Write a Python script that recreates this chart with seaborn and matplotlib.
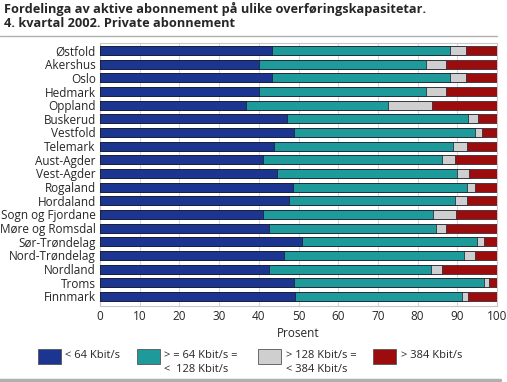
import matplotlib
matplotlib.use("Agg")
import matplotlib.pyplot as plt
import seaborn as sns
import pandas as pd
import numpy as np
from matplotlib.patches import Rectangle
from matplotlib.lines import Line2D

regions = ["Østfold", "Akershus", "Oslo", "Hedmark", "Oppland", "Buskerud",
           "Vestfold", "Telemark", "Aust-Agder", "Vest-Agder", "Rogaland",
           "Hordaland", "Sogn og Fjordane", "Møre og Romsdal", "Sør-Trøndelag",
           "Nord-Trøndelag", "Nordland", "Troms", "Finnmark"]

under_64 = [43.3, 40.1, 43.3, 40.1, 36.7, 47.1, 48.8, 43.8, 41.1, 44.6,
            48.7, 47.6, 41.1, 42.6, 50.8, 46.4, 42.6, 48.9, 49.1]
from_64_to_128 = [44.9, 42.0, 44.9, 42.0, 35.8, 45.6, 45.6, 45.0, 45.0, 45.3,
                  43.8, 41.8, 42.8, 42.0, 44.2, 45.2, 40.8, 47.8, 42.1]
from_128_to_384 = [4.0, 5.0, 4.0, 5.0, 11.1, 2.4, 1.7, 3.7, 3.4, 3.1,
                   1.9, 3.1, 5.7, 2.5, 1.6, 2.8, 2.7, 1.2, 1.5]
over_384 = [7.8, 12.9, 7.8, 12.9, 16.4, 4.9, 3.9, 7.5, 10.5, 7.0,
            5.6, 7.5, 10.4, 12.9, 3.4, 5.6, 13.9, 2.1, 7.3]

series_labels = ["< 64 Kbit/s", "> = 64 Kbit/s =\n<  128 Kbit/s",
                 "> 128 Kbit/s =\n< 384 Kbit/s", "> 384 Kbit/s"]
colors = ["#1b3590", "#1f9a9a", "#cfcfcf", "#9c0c0c"]

title = "Fordelinga av aktive abonnement på ulike overføringskapasitetar.\n4. kvartal 2002. Private abonnement"

sns.set_style("white")
plt.rcParams['font.family'] = ['Open Sans', 'DejaVu Sans']

W, H = 507, 382
shares = np.array([under_64, from_64_to_128, from_128_to_384, over_384])
cum = np.cumsum(shares, axis=0)

fig = plt.figure(figsize=(W / 100, H / 100), dpi=100)
ax = fig.add_axes([100 / W, 1 - 306 / H, 397 / W, 263 / H])

# stacked look: draw the cumulative totals from the longest to the shortest
for i in range(3, -1, -1):
    df = pd.DataFrame({"region": regions, "value": cum[i]})
    sns.barplot(data=df, x="value", y="region", order=regions, orient="h",
                color=colors[i], saturation=1, width=0.66,
                edgecolor="#1a1a2a", linewidth=0.5, ax=ax, zorder=3)

ax.set_xlim(0, 100)
ax.set_ylim(len(regions) - 0.3, -0.55)
ax.set_xticks(range(0, 101, 10))
ax.grid(axis="x", color="#d8d8d8", linewidth=0.8, zorder=0)
ax.set_axisbelow(True)
for s in ax.spines.values():
    s.set_color("#c8c8c8")
    s.set_linewidth(0.8)
ax.tick_params(length=0, labelsize=8.5, pad=3)
ax.set_ylabel("")
ax.set_xlabel("Prosent", fontsize=8.5, labelpad=3)

fig.text(0.008, 0.995, title, fontsize=9.2, fontweight="bold", va="top", ha="left",
         linespacing=1.15)
fig.add_artist(Line2D([0, 497 / W], [1 - 36 / H] * 2, color="#b0b0b0", lw=1))
fig.add_artist(Line2D([0, 500 / W], [1 - 380 / H] * 2, color="#b0b0b0", lw=2.5))

# legend, laid out by hand so the two-line labels hang from the top
box_x = [38, 137, 258, 373]
text_x = [65, 164, 286, 401]
for bx, tx, c, lab in zip(box_x, text_x, colors, series_labels):
    fig.add_artist(Rectangle((bx / W, 1 - 364 / H), 23 / W, 15 / H,
                             facecolor=c, edgecolor="#555555", linewidth=0.6,
                             transform=fig.transFigure))
    fig.text(tx / W, 1 - 350 / H, lab, fontsize=8, va="top", ha="left",
             linespacing=1.35)

fig.savefig("out.png", dpi=100)
